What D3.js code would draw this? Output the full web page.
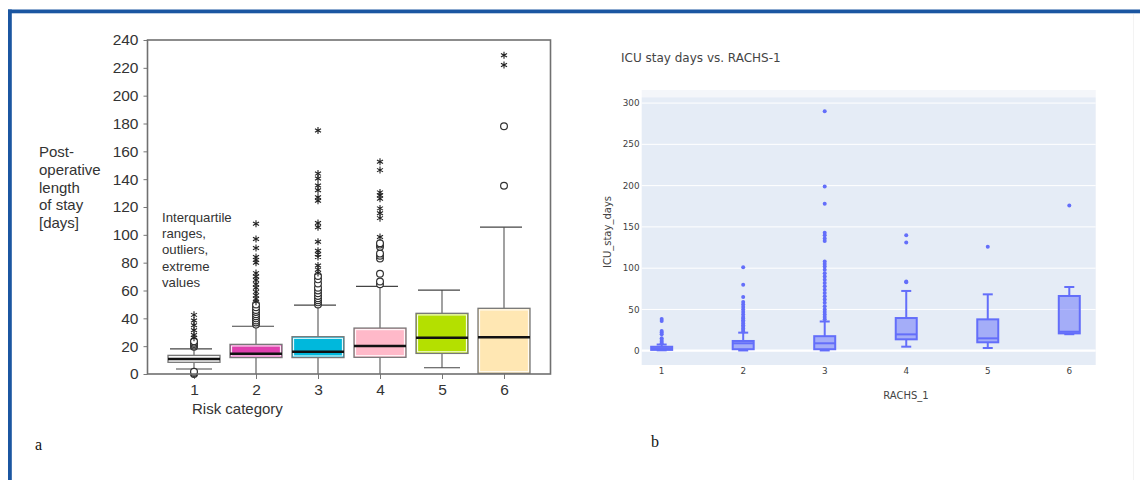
<!DOCTYPE html>
<html><head><meta charset="utf-8">
<script src="https://cdn.jsdelivr.net/npm/d3@7"></script>
<style>body{margin:0;background:#fff}svg{display:block}</style>
</head><body><svg id="c" width="1140" height="480"></svg>
<script>
// ---------- Panel a data (post-operative length of stay, days) ----------
const aCats = [1, 2, 3, 4, 5, 6];
const aYTicks = [0, 20, 40, 60, 80, 100, 120, 140, 160, 180, 200, 220, 240];
const aLow = [3.6, 0, 0, 0, 4.5, 0];
const aQ1 = [8.4, 11.8, 11.8, 12, 14.8, 0.5];
const aMed = [10.8, 14.6, 16, 20.1, 26, 26.4];
const aQ3 = [13.4, 21.3, 26.8, 33, 43.6, 47.2];
const aHigh = [18, 34.3, 49.5, 63, 60.3, 105.5];
const aOutliers = [
  [0, 0.8, 1.6, 19.6, 20.5, 21.5, 22.5, 23.5],
  [35.5, 37, 38.5, 40, 41.5, 43, 44.5, 46, 48, 50],
  [50, 51.5, 53, 54.5, 56, 58, 60, 62, 65, 68, 70.5],
  [64.5, 66.5, 72, 83, 85, 86.5, 91.5, 93, 94],
  [],
  [135.3, 178]
];
const aExtremes = [
  [26, 28, 31.5, 35, 38.5, 42.5],
  [52, 54, 56.5, 59, 62, 64.5, 67.5, 70, 72.5, 80, 82, 84, 90.5, 97, 108],
  [72.5, 75, 78, 84, 86, 88.5, 95, 105.5, 108.5, 124.5, 127, 132, 135.5, 140.5, 144, 175],
  [98.5, 112, 115.5, 119, 126, 128.5, 130.5, 146.5, 152.5],
  [],
  [222, 229]
];
const aYLabel = ["Post-", "operative", "length", "of stay", "[days]"];
const aNote = ["Interquartile", "ranges,", "outliers,", "extreme", "values"];
const aXLabel = "Risk category";

// ---------- Panel b data (ICU stay days vs RACHS-1) ----------
const bCats = [1, 2, 3, 4, 5, 6];
const bYTicks = [0, 50, 100, 150, 200, 250, 300];
const bLow = [0.5, 0.3, 0.3, 4.9, 3.3, 20];
const bQ1 = [1, 1.8, 1.8, 13.8, 10.2, 21];
const bMed = [3, 9, 9, 19.8, 15, 23];
const bQ3 = [4.8, 11.8, 17.6, 39.6, 38, 66.3];
const bHigh = [7.5, 21.9, 35.4, 72.4, 68.3, 77.2];
const bOutliers = [
  [9, 11, 13, 15, 20, 22, 24, 36, 38.5],
  [23, 25, 27, 29, 31, 33, 35, 37, 39, 41, 44, 47, 50, 53, 56, 59, 65, 80, 101],
  [38, 41, 44, 47, 50, 54, 58, 62, 66, 70, 74, 78, 82, 86, 90, 94, 98, 102, 105, 108, 133, 136, 140, 143, 178, 199, 290],
  [83, 84, 131, 140],
  [126],
  [176]
];
const bTitle = "ICU stay days vs. RACHS-1";
const bXTitle = "RACHS_1";
const bYTitle = "ICU_stay_days";

// ---------- styles ----------
const aPalette = ["#f1f1f1", "#df3fae", "#00b8dc", "#ffb9c9", "#b4e000", "#ffe7b3"];
const svg = d3.select("#c");

// outer frame
svg.append("rect").attr("x", 8).attr("y", 9.5).attr("width", 1132).attr("height", 3.8).attr("fill", "#1b56a1");
svg.append("rect").attr("x", 8).attr("y", 9.5).attr("width", 3.8).attr("height", 471).attr("fill", "#1b56a1");
svg.append("line").attr("x1", 1133.5).attr("x2", 1133.5).attr("y1", 14).attr("y2", 480).attr("stroke", "#f3f3f3");

// ================= Panel a =================
const aFont = "'Liberation Sans', Arial, sans-serif";
const yA = d3.scaleLinear().domain([0, 240]).range([374, 40]);
const xA = d3.scaleLinear().domain([0.25, 6.75]).range([147.5, 550.5]);
const gA = svg.append("g");

const yAxA = gA.append("g").attr("transform", "translate(147.5,0)")
  .call(d3.axisLeft(yA).tickValues(aYTicks).tickSize(4).tickPadding(5).tickSizeOuter(0));
yAxA.select(".domain").remove();
yAxA.selectAll("line").attr("stroke", "#777");
yAxA.selectAll("text").attr("font-family", aFont).attr("font-size", 15.5).attr("fill", "#333");

const xAxA = gA.append("g").attr("transform", "translate(0,374)")
  .call(d3.axisBottom(xA).tickValues(aCats).tickFormat(d3.format("d")).tickSize(5).tickPadding(5).tickSizeOuter(0));
xAxA.select(".domain").remove();
xAxA.selectAll("line").attr("stroke", "#777");
xAxA.selectAll("text").attr("font-family", aFont).attr("font-size", 15.5).attr("fill", "#333");

const bw = 52;
aCats.forEach((c, i) => {
  const cx = xA(c);
  const g = gA.append("g");
  g.append("line").attr("x1", cx).attr("x2", cx).attr("y1", yA(aHigh[i])).attr("y2", yA(aQ3[i])).attr("stroke", "#555").attr("stroke-width", 1.1);
  g.append("line").attr("x1", cx).attr("x2", cx).attr("y1", yA(aQ1[i])).attr("y2", yA(aLow[i])).attr("stroke", "#555").attr("stroke-width", 1.1);
  g.append("line").attr("x1", cx - 24).attr("x2", cx + 18).attr("y1", yA(aHigh[i])).attr("y2", yA(aHigh[i])).attr("stroke", "#444").attr("stroke-width", 1.2);
  if (aLow[i] > 1) g.append("line").attr("x1", cx - 18).attr("x2", cx + 18).attr("y1", yA(aLow[i])).attr("y2", yA(aLow[i])).attr("stroke", "#444").attr("stroke-width", 1.2);
  g.append("rect").attr("x", cx - bw / 2).attr("y", yA(aQ3[i])).attr("width", bw).attr("height", yA(aQ1[i]) - yA(aQ3[i]))
    .attr("fill", aPalette[i]).attr("stroke", "#777").attr("stroke-width", 1.3);
  g.append("rect").attr("x", cx - bw / 2 + 1.6).attr("y", yA(aQ3[i]) + 1.6).attr("width", bw - 3.2).attr("height", Math.max(0, yA(aQ1[i]) - yA(aQ3[i]) - 3.2))
    .attr("fill", "none").attr("stroke", "#fff").attr("stroke-width", 1);
  g.append("line").attr("x1", cx - bw / 2).attr("x2", cx + bw / 2).attr("y1", yA(aMed[i])).attr("y2", yA(aMed[i])).attr("stroke", "#111").attr("stroke-width", 2.5);
  g.selectAll("circle.o").data(aOutliers[i]).join("circle").attr("cx", cx).attr("cy", d => yA(d)).attr("r", 3.4)
    .attr("fill", "#fff").attr("stroke", "#333").attr("stroke-width", 1.2);
  g.selectAll("path.x").data(aExtremes[i]).join("path")
    .attr("transform", d => `translate(${cx},${yA(d)})`)
    .attr("d", d3.symbol(d3.symbolAsterisk, 34)()).attr("fill", "none").attr("stroke", "#222").attr("stroke-width", 1.1);
});
gA.append("rect").attr("x", 147.5).attr("y", 40).attr("width", 403).attr("height", 334).attr("fill", "none").attr("stroke", "#707070").attr("stroke-width", 1.6);

gA.append("text").attr("font-family", aFont).attr("font-size", 15).attr("fill", "#333")
  .selectAll("tspan").data(aYLabel).join("tspan").attr("x", 39).attr("y", (d, i) => 157 + i * 17.8).text(d => d);
gA.append("text").attr("font-family", aFont).attr("font-size", 13.2).attr("fill", "#333")
  .selectAll("tspan").data(aNote).join("tspan").attr("x", 162).attr("y", (d, i) => 222 + i * 16.2).text(d => d);
gA.append("text").attr("font-family", aFont).attr("font-size", 15).attr("fill", "#333")
  .attr("x", 192).attr("y", 414).text(aXLabel);
svg.append("text").attr("font-family", "'Liberation Serif', 'DejaVu Serif', serif").attr("font-size", 16).attr("fill", "#111")
  .attr("x", 35).attr("y", 450).text("a");
svg.append("text").attr("font-family", "'Liberation Serif', 'DejaVu Serif', serif").attr("font-size", 16).attr("fill", "#111")
  .attr("x", 651).attr("y", 447).text("b");

// ================= Panel b =================
const bFont = "'DejaVu Sans', Verdana, sans-serif";
const yB = d3.scaleLinear().domain([-17.3, 307]).range([365, 97.3]);
const xB = d3.scaleLinear().domain([0.755, 6.324]).range([641.7, 1095.7]);
const gB = svg.append("g");
gB.append("rect").attr("x", 641.7).attr("y", 90).attr("width", 454).attr("height", 7.3).attr("fill", "#f4f6fa");
gB.append("rect").attr("x", 641.7).attr("y", 97.3).attr("width", 454).attr("height", 267.7).attr("fill", "#e5ecf6");
gB.selectAll("line.grid").data(bYTicks).join("line")
  .attr("x1", 641.7).attr("x2", 1095.7).attr("y1", d => yB(d)).attr("y2", d => yB(d))
  .attr("stroke", "#fff").attr("stroke-width", d => d === 0 ? 2.2 : 1);
gB.selectAll("text.yt").data(bYTicks).join("text")
  .attr("x", 639.5).attr("y", d => yB(d)).attr("dy", "0.35em").attr("text-anchor", "end")
  .attr("font-family", bFont).attr("font-size", 8.8).attr("fill", "#3f3f3f").text(d => d);
gB.selectAll("text.xt").data(bCats).join("text")
  .attr("x", d => xB(d)).attr("y", 374).attr("text-anchor", "middle")
  .attr("font-family", bFont).attr("font-size", 8.8).attr("fill", "#3f3f3f").text(d => d);
gB.append("text").attr("x", 906).attr("y", 398.5).attr("text-anchor", "middle")
  .attr("font-family", bFont).attr("font-size", 10).attr("fill", "#444").text(bXTitle);
gB.append("text").attr("transform", "translate(610.5,232) rotate(-90)").attr("text-anchor", "middle")
  .attr("font-family", bFont).attr("font-size", 10).attr("fill", "#444").text(bYTitle);
gB.append("text").attr("x", 621).attr("y", 62)
  .attr("font-family", bFont).attr("font-size", 12).attr("fill", "#444").text(bTitle);

const bbw = 21, cap = 10, bc = "#636efa";
bCats.forEach((c, i) => {
  const cx = xB(c);
  const g = gB.append("g");
  g.append("line").attr("x1", cx).attr("x2", cx).attr("y1", yB(bHigh[i])).attr("y2", yB(bQ3[i])).attr("stroke", bc).attr("stroke-width", 2);
  g.append("line").attr("x1", cx).attr("x2", cx).attr("y1", yB(bQ1[i])).attr("y2", yB(bLow[i])).attr("stroke", bc).attr("stroke-width", 2);
  g.append("line").attr("x1", cx - cap / 2).attr("x2", cx + cap / 2).attr("y1", yB(bHigh[i])).attr("y2", yB(bHigh[i])).attr("stroke", bc).attr("stroke-width", 2);
  g.append("line").attr("x1", cx - cap / 2).attr("x2", cx + cap / 2).attr("y1", yB(bLow[i])).attr("y2", yB(bLow[i])).attr("stroke", bc).attr("stroke-width", 2);
  g.append("rect").attr("x", cx - bbw / 2).attr("y", yB(bQ3[i])).attr("width", bbw).attr("height", yB(bQ1[i]) - yB(bQ3[i]))
    .attr("fill", "rgba(99,110,250,0.5)").attr("stroke", bc).attr("stroke-width", 2);
  g.append("line").attr("x1", cx - bbw / 2).attr("x2", cx + bbw / 2).attr("y1", yB(bMed[i])).attr("y2", yB(bMed[i])).attr("stroke", bc).attr("stroke-width", 2);
  g.selectAll("circle").data(bOutliers[i]).join("circle").attr("cx", cx).attr("cy", d => yB(d)).attr("r", 2).attr("fill", bc);
});
</script></body></html>
